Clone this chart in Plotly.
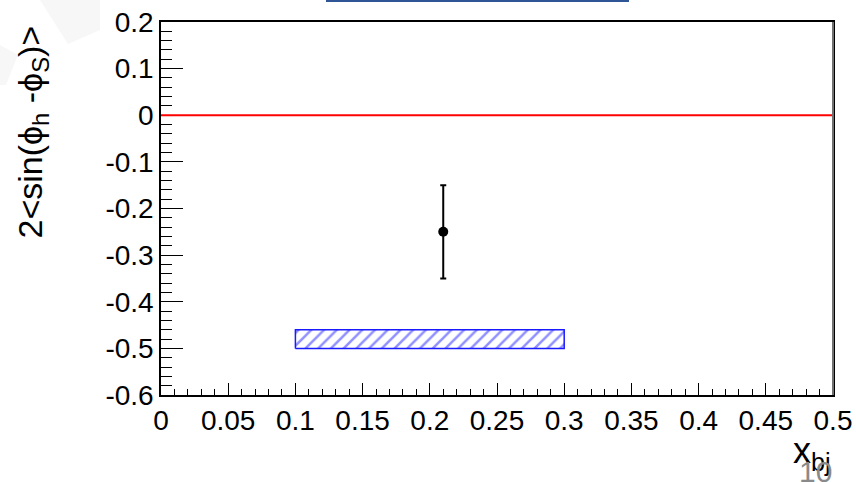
import plotly.graph_objects as go

# ---- data ----
point_x = [0.21]
point_y = [-0.25]
point_err = [0.10]

sys_x = [0.10, 0.30]          # systematic band x-extent
sys_y = [-0.50, -0.46]        # systematic band y-extent

zero_x = [0.0, 0.5]
zero_y = [0.0, 0.0]

x_range = [0, 0.5]
y_range = [-0.6, 0.2]
x_ticks = [0, 0.05, 0.1, 0.15, 0.2, 0.25, 0.3, 0.35, 0.4, 0.45, 0.5]
x_ticklabels = ["0", "0.05", "0.1", "0.15", "0.2", "0.25", "0.3", "0.35", "0.4", "0.45", "0.5"]
y_ticks = [-0.6, -0.5, -0.4, -0.3, -0.2, -0.1, 0, 0.1, 0.2]
y_ticklabels = ["-0.6", "-0.5", "-0.4", "-0.3", "-0.2", "-0.1", "0", "0.1", "0.2"]

FONT = "Liberation Sans"

fig = go.Figure()

# systematic band (hatched box)
fig.add_trace(go.Scatter(
    x=[sys_x[0], sys_x[1], sys_x[1], sys_x[0], sys_x[0]],
    y=[sys_y[0], sys_y[0], sys_y[1], sys_y[1], sys_y[0]],
    mode="lines", fill="toself",
    line=dict(color="#1a1aff", width=1.5),
    fillcolor="rgba(0,0,0,0)",
    fillpattern=dict(shape="/", fgcolor="#2020ff", bgcolor="white", size=9, solidity=0.28),
    showlegend=False, hoverinfo="skip",
))

# zero line
fig.add_trace(go.Scatter(
    x=zero_x, y=zero_y, mode="lines",
    line=dict(color="#ff0000", width=2.2),
    showlegend=False, hoverinfo="skip",
))

# data point
fig.add_trace(go.Scatter(
    x=point_x, y=point_y, mode="markers",
    marker=dict(color="black", size=10, symbol="circle"),
    error_y=dict(type="data", array=point_err, color="black", thickness=2, width=3),
    showlegend=False,
))

fig.update_layout(
    width=856, height=482,
    margin=dict(l=161, r=23, t=22, b=87, autoexpand=False),
    paper_bgcolor="white", plot_bgcolor="white",
    font=dict(family=FONT, color="black", size=28),
    xaxis=dict(
        range=x_range, tickvals=x_ticks, ticktext=x_ticklabels,
        ticks="inside", ticklen=12, tickwidth=1.2, tickcolor="black",
        minor=dict(ticks="inside", ticklen=6, dtick=0.01, tickwidth=1.2, tickcolor="black"),
        showgrid=False, zeroline=False, automargin=False, layer="below traces",
        showline=True, linecolor="black", linewidth=1.5, mirror=True,
        tickfont=dict(size=28, family=FONT, color="black"),
    ),
    yaxis=dict(
        range=y_range, tickvals=y_ticks, ticktext=y_ticklabels,
        ticks="inside", ticklen=22, tickwidth=1.2, tickcolor="black",
        minor=dict(ticks="inside", ticklen=11, dtick=0.02, tickwidth=1.2, tickcolor="black"),
        showgrid=False, zeroline=False, automargin=False, layer="below traces",
        showline=True, linecolor="black", linewidth=1.5, mirror=True,
        tickfont=dict(size=28, family=FONT, color="black"),
    ),
    shapes=[
        # right frame edge (greyish)
        dict(type="line", xref="paper", yref="paper", x0=1, x1=1, y0=0, y1=1,
             line=dict(color="#707070", width=2)),
        # slide banner bottom edge at top
        dict(type="rect", xref="paper", yref="paper",
             x0=(327 - 161) / 672, x1=(628 - 161) / 672,
             y0=1 + (22 - 1) / 373, y1=1 + (22 + 20) / 373,
             line=dict(color="#2f5597", width=2), fillcolor="white", layer="above"),
        # faint watermark shapes
        dict(type="path", xref="paper", yref="paper",
             path="M %f %f L %f %f L %f %f L %f %f Z" % (
                 (40 - 161) / 672, 1 + (22 - 0) / 373,
                 (100 - 161) / 672, 1 + (22 - 0) / 373,
                 (100 - 161) / 672, 1 + (22 - 30) / 373,
                 (68 - 161) / 672, 1 + (22 - 44) / 373),
             line=dict(width=0), fillcolor="#f7f7f7", layer="below"),
        dict(type="path", xref="paper", yref="paper",
             path="M %f %f L %f %f L %f %f L %f %f Z" % (
                 (0 - 161) / 672, 1 - (45 - 22) / 373,
                 (18 - 161) / 672, 1 - (55 - 22) / 373,
                 (6 - 161) / 672, 1 - (85 - 22) / 373,
                 (0 - 161) / 672, 1 - (85 - 22) / 373),
             line=dict(width=0), fillcolor="#f7f7f7", layer="below"),
    ],
    annotations=[
        dict(text="2&lt;sin(ϕ<sub>h</sub> -ϕ<sub>S</sub>)&gt;", textangle=-90,
             xref="paper", yref="paper", x=(32 - 161) / 672, y=1 - (24 - 22) / 373,
             xanchor="center", yanchor="top", showarrow=False,
             font=dict(size=34, family=FONT, color="black")),
        dict(text="x<sub>bj</sub>", xref="paper", yref="paper",
             x=1.0, y=-(428 - 395) / 373, xanchor="right", yanchor="top",
             showarrow=False, font=dict(size=36, family=FONT, color="black")),
        dict(text="10", xref="paper", yref="paper",
             x=(815 - 161) / 672, y=-(453 - 395) / 373, xanchor="center", yanchor="top",
             showarrow=False, font=dict(size=30, family=FONT, color="#8a8a8a")),
    ],
)

fig.write_html("out.html")
